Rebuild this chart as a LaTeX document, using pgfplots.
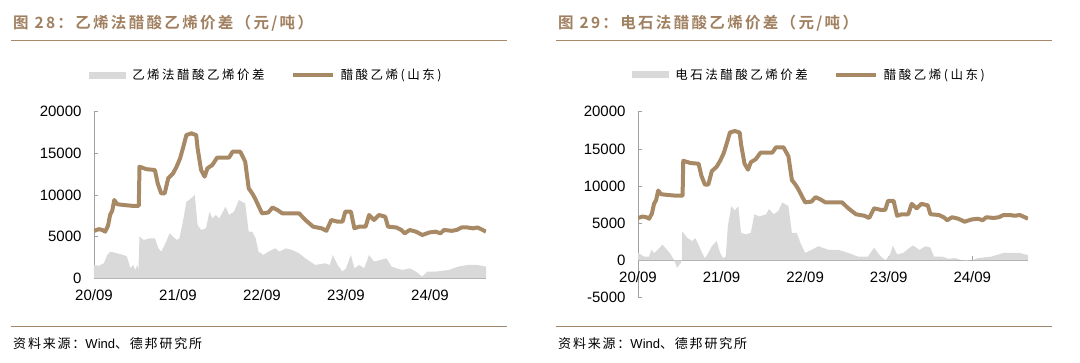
\documentclass[border=0pt]{standalone}
\usepackage{pgfplots}
\pgfplotsset{compat=1.18}
\usepackage{fontspec}
\setmainfont{Liberation Sans}
\newfontfamily\cjk{Noto Sans CJK SC}
\newfontfamily\cjksp[LetterSpace=20]{Noto Sans CJK SC}
\newfontfamily\cjksrc[LetterSpace=14]{Noto Sans CJK SC}
\newfontfamily\cjkti[LetterSpace=15]{Noto Sans CJK SC Bold}
\definecolor{brownline}{RGB}{168,137,101}
\definecolor{titlebrown}{RGB}{160,128,96}
\definecolor{fillgray}{RGB}{217,217,217}
\definecolor{axisgray}{RGB}{160,160,160}

\pgfplotstableread{
m v
0 5700
0.7 5900
1.2 5800
1.6 5600
2.0 6300
2.3 7600
2.6 8100
2.9 9400
3.3 8900
4.2 8800
5.5 8700
6.4 8700
6.5 13400
7.5 13100
8.7 13000
9.1 11400
9.6 10200
10.1 10200
10.6 12000
11.3 12600
11.8 13400
12.3 14400
12.7 15600
13.2 17200
13.9 17400
14.6 17200
14.8 15600
15.3 13000
15.8 12200
16.2 13200
16.9 13600
17.6 14500
19.3 14500
19.8 15200
20.9 15200
21.6 14000
22.1 10800
22.6 10200
23.0 9600
24.0 7800
24.9 7900
25.5 8500
26.2 8200
26.9 7800
27.9 7800
29.3 7800
30.2 7000
31.3 6200
32.5 6000
33.2 5700
33.9 7000
34.8 6800
35.5 6800
35.9 8000
36.7 8000
37.2 6000
37.9 6200
38.8 6200
39.3 7600
40.0 7000
40.7 7600
41.6 7400
42.0 6200
43.2 6100
43.9 5800
44.4 5400
45.1 5800
46.0 5600
46.9 5200
47.9 5500
48.8 5600
49.5 5400
50.0 5800
51.1 5700
51.8 5800
52.5 6100
53.4 6100
54.1 6000
54.8 6100
55.3 5900
56.0 5600
}\vaeline

\pgfplotstableread{
m v
0 0
0 1600
0.7 1500
1.4 1800
1.9 2800
2.35 3200
3.3 3000
4.2 2800
4.7 2600
5.2 1200
5.6 1600
5.9 1000
6.2 1600
6.35 1000
6.5 5000
7.1 4600
8.0 4800
8.7 4800
9.2 3600
9.6 3200
10.1 4000
10.8 5400
11.3 5000
11.8 4600
12.2 4800
12.7 6800
13.2 9200
13.6 9400
14.4 10000
14.8 6400
15.3 5800
16.0 6000
16.5 8000
16.9 7200
17.4 7600
17.9 7200
18.8 8600
19.3 7600
20.0 8000
20.7 9400
21.6 9000
22.1 5600
22.6 5600
23.1 4800
23.5 3200
24.2 2800
24.9 3200
25.9 3600
26.5 3200
27.4 3600
28.3 3400
29.3 3000
30.2 2400
31.6 1600
33.0 1800
33.7 1600
34.1 2800
34.8 1600
35.5 800
36.0 1200
36.7 2800
37.2 1200
37.9 1600
38.6 1200
39.3 2800
40.0 2000
40.9 2200
41.8 2400
42.5 1400
43.2 1200
44.1 1000
45.1 1200
46.0 800
46.9 200
47.6 800
48.8 800
50.7 1000
52.0 1400
53.4 1600
54.8 1600
56.0 1400
56.0 0
}\ethspread

\pgfplotstableread{
m v
0 0
0 1000
0.9 500
1.6 500
1.9 1400
2.35 1000
3.1 1700
3.5 2100
4.2 1400
4.7 800
5.2 0
5.6 -1000
6.1 -400
6.3 0
6.35 3900
7.1 3000
7.8 2600
8.2 3000
8.7 2100
9.2 1000
9.6 300
10.1 1000
10.6 1900
11.3 2600
11.8 1000
12.2 300
12.6 500
12.9 4600
13.4 7300
13.9 6700
14.4 7300
14.8 3700
15.5 3500
16.2 3700
16.7 6200
17.4 5900
18.4 6200
18.8 6900
19.5 6200
20.2 6700
20.7 7800
21.6 7300
22.1 3700
22.8 3700
23.3 2400
24.0 1000
24.9 1400
25.9 1900
26.5 1700
27.4 1400
28.8 1400
30.2 1000
31.6 500
33.0 500
33.9 1700
34.6 800
35.5 0
36.2 800
36.6 2000
37.2 800
38.1 1000
39.0 1700
39.5 2000
40.4 1400
41.3 1900
42.0 1700
42.5 500
43.7 500
44.6 200
45.5 300
46.9 -100
47.9 0
48.8 300
50.7 500
52.5 1000
54.8 1000
56.0 700
56.0 0
}\carbspread

\pgfplotsset{
  panel/.style={
    scale only axis,
    xmin=0, xmax=56,
    axis y line*=left,
    axis line style={draw=axisgray, line width=0.7pt},
    tick style={draw=axisgray, line width=0.7pt},
    major tick length=4pt,
    tick align=inside,
    scaled y ticks=false,
    scaled x ticks=false,
    xtick={0,12,24,36,48},
    xticklabels={20/09,21/09,22/09,23/09,24/09},
    ticklabel style={font=\fontsize{15}{15}\selectfont, text=black},
    xticklabel style={yshift=-8pt},
    yticklabel style={xshift=-9pt},
    legend columns=2,
    legend cell align=left,
    legend style={draw=none, fill=none, inner sep=0pt,
      font=\cjksp\fontsize{12.5}{12.5}\selectfont,
      /tikz/every odd column/.append style={column sep=4pt},
      /tikz/every even column/.append style={column sep=24pt}},
  },
  graylegend/.style={legend image code/.code={\fill[fillgray] (0pt,-3.5pt) rectangle (37pt,3.5pt);}},
  brownlegend/.style={legend image code/.code={\draw[brownline, line width=4pt] (0pt,0pt) -- (40pt,0pt);}},
}

\begin{document}
\begin{tikzpicture}
\path[use as bounding box] (0,0) rectangle (1080pt,-362pt);

% ---------- left panel ----------
\node[anchor=west, text=titlebrown, font=\cjkti\fontsize{15.5}{15.5}\selectfont, inner sep=0pt] at (13pt,-23pt) {图 28：乙烯法醋酸乙烯价差（元/吨）};
\draw[brownline, line width=1.2pt] (11pt,-40.7pt) -- (507pt,-40.7pt);
\draw[brownline!80!gray, line width=1.2pt] (11pt,-326.7pt) -- (507pt,-326.7pt);
\node[anchor=west, font=\fontsize{13}{13}\selectfont, inner sep=0pt] at (13pt,-344pt) {\cjksrc 资料来源：\rmfamily Wind\cjksrc 、德邦研究所};

\begin{axis}[panel,
  at={(94pt,-278.3pt)}, anchor=south west,
  width=392pt, height=166.6pt,
  ymin=0, ymax=20000,
  axis x line*=bottom,
  ytick={0,5000,10000,15000,20000},
  yticklabels={0,5000,10000,15000,20000},
  legend style={at={(0.44,1.22)}, anchor=center},
]
\addplot[graylegend, fill=fillgray, draw=none] table[x=m,y=v] {\ethspread};
\addlegendentry{乙烯法醋酸乙烯价差}
\addplot[brownlegend, brownline, line width=4pt, line join=round] table[x=m,y=v] {\vaeline};
\addlegendentry{醋酸乙烯(山东)}
\end{axis}

% ---------- right panel ----------
\node[anchor=west, text=titlebrown, font=\cjkti\fontsize{15.5}{15.5}\selectfont, inner sep=0pt] at (558pt,-23pt) {图 29：电石法醋酸乙烯价差（元/吨）};
\draw[brownline, line width=1.2pt] (556pt,-40.7pt) -- (1052pt,-40.7pt);
\draw[brownline!80!gray, line width=1.2pt] (556pt,-326.7pt) -- (1052pt,-326.7pt);
\node[anchor=west, font=\fontsize{13}{13}\selectfont, inner sep=0pt] at (558pt,-344pt) {\cjksrc 资料来源：\rmfamily Wind\cjksrc 、德邦研究所};

\begin{axis}[panel,
  at={(638pt,-297.5pt)}, anchor=south west,
  width=390pt, height=185.8pt,
  ymin=-5000, ymax=20000,
  axis x line*=middle,
  hide obscured x ticks=false,
  ytick={-5000,0,5000,10000,15000,20000},
  yticklabels={-5000,0,5000,10000,15000,20000},
  legend style={at={(0.44,1.2)}, anchor=center},
]
\addplot[graylegend, fill=fillgray, draw=none] table[x=m,y=v] {\carbspread};
\addlegendentry{电石法醋酸乙烯价差}
\addplot[brownlegend, brownline, line width=4pt, line join=round] table[x=m,y=v] {\vaeline};
\addlegendentry{醋酸乙烯(山东)}
\end{axis}
\end{tikzpicture}
\end{document}
